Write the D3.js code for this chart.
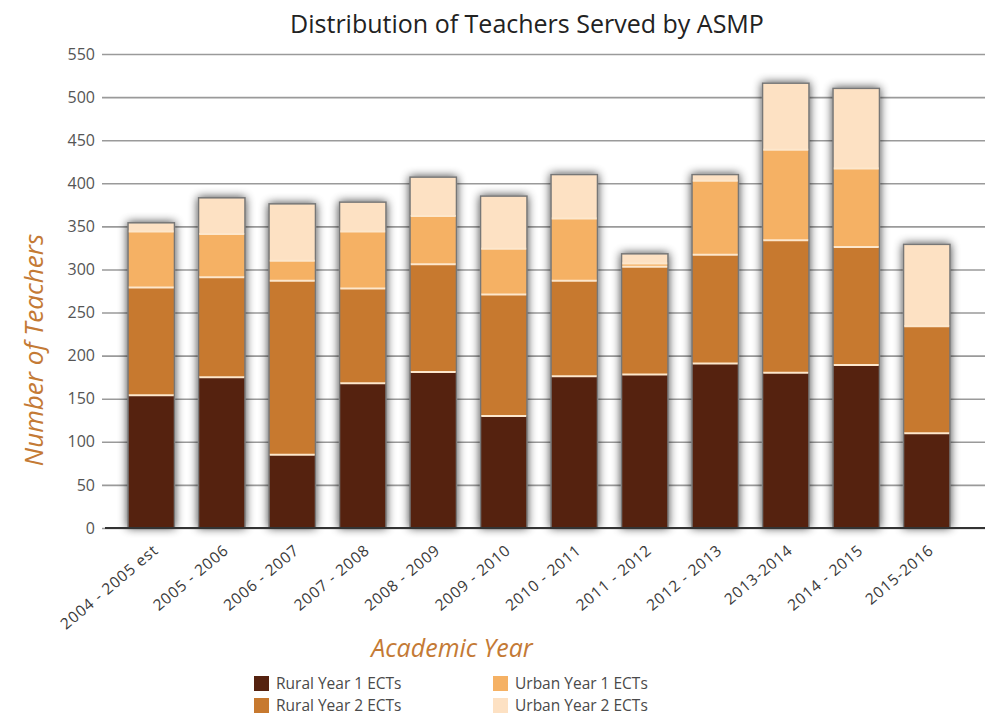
<!DOCTYPE html>
<html><head><meta charset="utf-8">
<script src="https://cdn.jsdelivr.net/npm/d3@7"></script>
<style>body{margin:0;background:#fff}svg{display:block}</style>
</head><body>
<svg id="c" width="990" height="717"></svg>
<script>
const years = ["2004 - 2005 est","2005 - 2006","2006 - 2007","2007 - 2008","2008 - 2009","2009 - 2010","2010 - 2011","2011 - 2012","2012 - 2013","2013-2014","2014 - 2015","2015-2016"];
const ruralY1 = [154,175,85,168,181,130,176,178,191,180,189,110];
const ruralY2 = [125,116,202,110,125,141,111,125,126,154,137,124];
const urbanY1 = [65,50,23,66,56,53,72,4,86,105,91,0];
const urbanY2 = [11,43,67,35,46,62,52,12,8,78,94,96];
const seriesNames = ["Rural Year 1 ECTs","Rural Year 2 ECTs","Urban Year 1 ECTs","Urban Year 2 ECTs"];
const seriesColors = ["#55220f","#c7792f","#f5b164","#fde1c3"];
const yTicks = [0,50,100,150,200,250,300,350,400,450,500,550];

const svg = d3.select("#c");
const font = "'Open Sans', sans-serif";
const defs = svg.append("defs");
const f = defs.append("filter").attr("id","sh").attr("x","-50%").attr("y","-20%").attr("width","200%").attr("height","140%");
f.append("feGaussianBlur").attr("in","SourceAlpha").attr("stdDeviation",5).attr("result","b");
f.append("feComponentTransfer").attr("in","b").attr("result","b2").append("feFuncA").attr("type","linear").attr("slope",0.75);
const m = f.append("feMerge"); m.append("feMergeNode").attr("in","b2"); m.append("feMergeNode").attr("in","SourceGraphic");

const y = d3.scaleLinear().domain([0,550]).range([528,54]);
const x = d3.scaleBand().domain(years).range([116,962]).paddingInner(0.32).paddingOuter(0.16);

// gridlines
const ga = svg.append("g").attr("transform","translate(102,0)")
  .call(d3.axisLeft(y).tickValues(yTicks).tickSize(-883).tickFormat(d=>d).tickPadding(7));
ga.select(".domain").remove();
ga.selectAll(".tick line").attr("stroke","#9a9a9a").attr("stroke-width",1.6);
ga.selectAll(".tick text").attr("font-family",font).attr("font-size",16).attr("fill","#555");

// stacked data
const rows = years.map((yr,i)=>({year:yr, s0:ruralY1[i], s1:ruralY2[i], s2:urbanY1[i], s3:urbanY2[i]}));
const stack = d3.stack().keys(["s0","s1","s2","s3"])(rows);
const tot = d => d.s0+d.s1+d.s2+d.s3;

// shadow/frame per bar
svg.append("g").selectAll("rect").data(rows).join("rect")
  .attr("x",d=>x(d.year)).attr("width",x.bandwidth())
  .attr("y",d=>y(tot(d))).attr("height",d=>y(0)-y(tot(d)))
  .attr("fill","#777").attr("filter","url(#sh)");

const bars = svg.append("g");
stack.forEach((layer,k)=>{
  bars.append("g").selectAll("rect").data(layer.filter(d=>d[1]>d[0])).join("rect")
    .attr("x",d=>x(d.data.year)+1.5).attr("width",x.bandwidth()-3)
    .attr("y",d=>y(d[1])+ (d[1]===tot(d.data)?1.5:0))
    .attr("height",d=>Math.max(0,y(d[0])-y(d[1]) - (d[1]===tot(d.data)?1.5:0)))
    .attr("fill",seriesColors[k]);
  bars.append("g").selectAll("line").data(layer.filter(d=>d[1]>d[0] && d[0]>0)).join("line")
    .attr("x1",d=>x(d.data.year)+1.5).attr("x2",d=>x(d.data.year)+x.bandwidth()-1.5)
    .attr("y1",d=>y(d[0])).attr("y2",d=>y(d[0]))
    .attr("stroke","#fde7cc").attr("stroke-width",2);
});

// baseline
svg.append("line").attr("x1",105).attr("x2",985).attr("y1",y(0)).attr("y2",y(0)).attr("stroke","#333").attr("stroke-width",2);

// x labels
svg.append("g").selectAll("text").data(years).join("text")
  .attr("transform",d=>`translate(${x(d)+x.bandwidth()/2+8},${y(0)+24}) rotate(-40)`)
  .attr("text-anchor","end").attr("font-family",font).attr("font-size",15.5).attr("letter-spacing",0.8).attr("fill","#3a3a3a")
  .text(d=>d);

// title
svg.append("text").attr("x",527).attr("y",33).attr("text-anchor","middle")
  .attr("font-family",font).attr("font-size",25).attr("fill","#222").text("Distribution of Teachers Served by ASMP");

// axis titles
svg.append("text").attr("transform","translate(43,350) rotate(-90)").attr("text-anchor","middle")
  .attr("font-family",font).attr("font-style","italic").attr("font-size",26).attr("fill","#c47a35").text("Number of Teachers");
svg.append("text").attr("x",452).attr("y",657).attr("text-anchor","middle")
  .attr("font-family",font).attr("font-style","italic").attr("font-size",25).attr("fill","#c47a35").text("Academic Year");

// legend
const lg = svg.append("g");
const lpos = [[254,676],[254,698],[493,676],[493,698]];
seriesNames.forEach((n,i)=>{
  lg.append("rect").attr("x",lpos[i][0]).attr("y",lpos[i][1]).attr("width",15).attr("height",15).attr("fill",seriesColors[i]);
  lg.append("text").attr("x",lpos[i][0]+22).attr("y",lpos[i][1]+13).attr("font-family",font).attr("font-size",15.5).attr("fill","#4a4a4a").text(n);
});
</script>
</body></html>
